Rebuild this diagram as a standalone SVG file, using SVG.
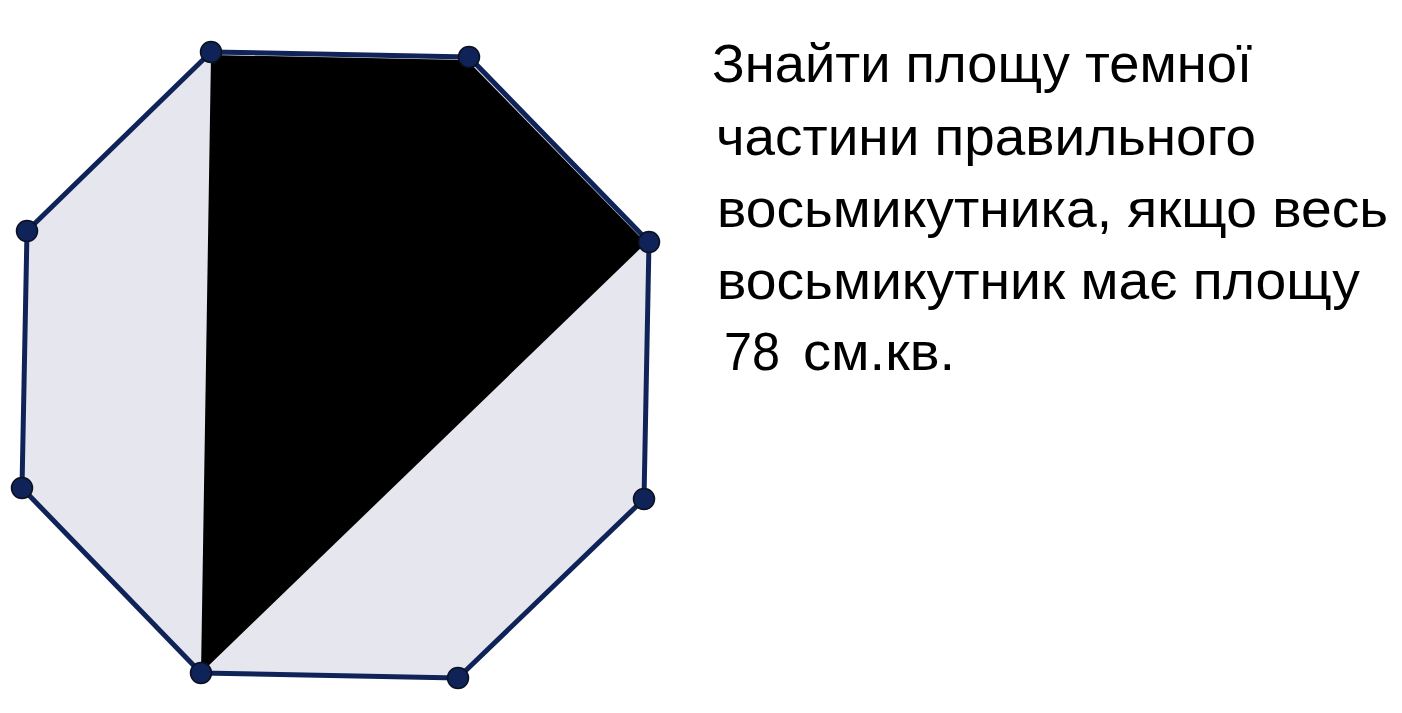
<svg xmlns="http://www.w3.org/2000/svg" width="1402" height="713" viewBox="0 0 1402 713">
<style>
.edge{fill:none;stroke:#0f2358;stroke-width:5;stroke-linejoin:round}
.pt{fill:#0f2358;stroke:#0a1020;stroke-width:1.5}
.t{font-family:"Liberation Sans","Open Sans",sans-serif;font-size:53px;fill:#000}
</style>
<rect width="1402" height="713" fill="#fff"/>
<g id="octagon">
<polygon points="211,52 469,57 649,242 644,499 458,678 201,673 22,488 27,231" fill="#e6e6ef"/>
<polygon class="edge" points="211,52 469,57 649,242 644,499 458,678 201,673 22,488 27,231"/>
<polygon id="dark" points="211,55 467,60 646,243 201,673" fill="#000"/>
</g>
<g id="vertices">
<circle class="pt" cx="211" cy="52" r="10.5"/>
<circle class="pt" cx="469" cy="57" r="10.5"/>
<circle class="pt" cx="649" cy="242" r="10.5"/>
<circle class="pt" cx="644" cy="499" r="10.5"/>
<circle class="pt" cx="458" cy="678" r="10.5"/>
<circle class="pt" cx="201" cy="673" r="10.5"/>
<circle class="pt" cx="22" cy="488" r="10.5"/>
<circle class="pt" cx="27" cy="231" r="10.5"/>
</g>
<g id="text">
<text class="t" x="712" y="82" textLength="540" lengthAdjust="spacingAndGlyphs">Знайти площу темної</text>
<text class="t" x="716" y="155" textLength="540" lengthAdjust="spacingAndGlyphs">частини правильного</text>
<text class="t" x="717" y="227" textLength="671" lengthAdjust="spacingAndGlyphs">восьмикутника, якщо весь</text>
<text class="t" x="717" y="299" textLength="643" lengthAdjust="spacingAndGlyphs">восьмикутник має площу</text>
<text class="t" x="724" y="370" textLength="56" lengthAdjust="spacingAndGlyphs">78</text>
<text class="t" x="803" y="370" textLength="152" lengthAdjust="spacingAndGlyphs">см.кв.</text>
</g>
</svg>
